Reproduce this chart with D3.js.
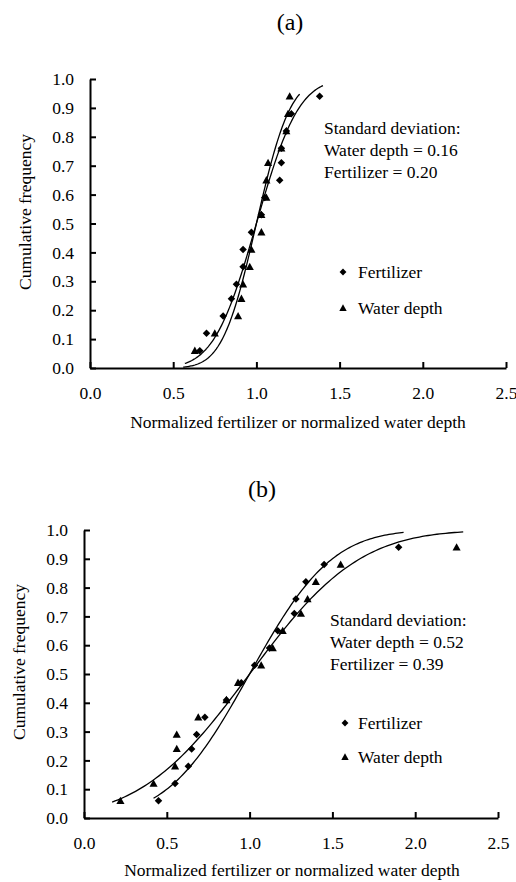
<!DOCTYPE html>
<html><head><meta charset="utf-8">
<script src="https://cdn.jsdelivr.net/npm/d3@7"></script>
<style>
body{margin:0;background:#fff}
svg{display:block}
text{font-family:"Liberation Serif","Times New Roman",serif;fill:#000}
</style>
</head><body><svg id="c" width="516" height="882"></svg>
<script>
// ---- data ----
const freq   = [0.06,0.12,0.18,0.24,0.29,0.35,0.41,0.47,0.53,0.59,0.65,0.71,0.76,0.82,0.88,0.94];
const fertA  = [0.66,0.70,0.80,0.85,0.88,0.92,0.92,0.97,1.03,1.05,1.14,1.15,1.15,1.18,1.21,1.38];
const waterA = [0.63,0.75,0.89,0.91,0.92,0.96,0.97,1.03,1.03,1.06,1.06,1.07,1.15,1.18,1.19,1.20];
const fertB  = [0.45,0.55,0.63,0.65,0.68,0.73,0.86,0.95,1.03,1.12,1.17,1.27,1.28,1.34,1.45,1.90];
const waterB = [0.22,0.42,0.55,0.56,0.56,0.69,0.86,0.93,1.07,1.14,1.20,1.31,1.35,1.40,1.55,2.25];
const xTicks = [0.0,0.5,1.0,1.5,2.0,2.5];
const yTicks = [0.0,0.1,0.2,0.3,0.4,0.5,0.6,0.7,0.8,0.9,1.0];
const panelTitles = ["(a)","(b)"];
const sdWater = [0.16,0.52];
const sdFert  = [0.20,0.39];
const fitMean = 1.0;
const waterCurveRange = [[0.56,1.26],[0.17,2.29]];
const fertCurveRange  = [[0.57,1.40],[0.42,1.93]];
const seriesNames = ["Fertilizer","Water depth"];
const xTitle = "Normalized fertilizer or normalized water depth";
const yTitle = "Cumulative frequency";

// ---- layout ----
const layouts = [
  {x0:90,x1:506,y0:368,y1:79,title:[290,30],xt:[298,428],yt:[25,212],ann:[324,134],leg:[343,358,272,308]},
  {x0:84,x1:498,y0:818,y1:530,title:[262,497],xt:[292,876],yt:[19,662],ann:[330,626],leg:[345,358,723,757]}
];
const fs = 17.5;

function erf(x){
  const s = x<0?-1:1; x=Math.abs(x);
  const t = 1/(1+0.3275911*x);
  const y = 1-(((((1.061405429*t-1.453152027)*t)+1.421413741)*t-0.284496736)*t+0.254829592)*t*Math.exp(-x*x);
  return s*y;
}
const ncdf = (x,m,s)=>0.5*(1+erf((x-m)/(s*Math.SQRT2)));

const svg = d3.select("#c");
svg.append("rect").attr("width",516).attr("height",882).attr("fill","#fff");

const diamond = {draw(ctx,size){const r=Math.sqrt(size)/2*1.25;ctx.moveTo(0,-r);ctx.lineTo(r,0);ctx.lineTo(0,r);ctx.lineTo(-r,0);ctx.closePath();}};
const tri = {draw(ctx,size){const r=Math.sqrt(size)/2*1.35;ctx.moveTo(0,-r);ctx.lineTo(r,r*0.8);ctx.lineTo(-r,r*0.8);ctx.closePath();}};

const dataSets = [[fertA,waterA],[fertB,waterB]];

layouts.forEach((L,pi)=>{
  const x = d3.scaleLinear().domain([0,2.5]).range([L.x0,L.x1]);
  const y = d3.scaleLinear().domain([0,1]).range([L.y0,L.y1]);
  const g = svg.append("g");

  // axes
  const ya = g.append("g").attr("transform",`translate(${L.x0},0)`)
    .call(d3.axisLeft(y).tickValues(yTicks).tickFormat(d3.format(".1f")).tickSizeInner(-6).tickSizeOuter(0).tickPadding(16));
  const xa = g.append("g").attr("transform",`translate(0,${L.y0})`)
    .call(d3.axisBottom(x).tickValues(xTicks).tickFormat(d3.format(".1f")).tickSizeInner(-6).tickSizeOuter(0).tickPadding(19));
  [ya,xa].forEach(a=>{
    a.attr("font-family",null);
    a.select(".domain").attr("stroke","#000").attr("stroke-width",2);
    a.selectAll(".tick line").attr("stroke","#000").attr("stroke-width",2);
    a.selectAll("text").attr("font-size",fs).attr("fill","#000");
  });

  // curves
  const line = d3.line().x(d=>x(d[0])).y(d=>y(d[1]));
  const mk = (rng,sd)=>d3.range(121).map(i=>{const v=rng[0]+(rng[1]-rng[0])*i/120;return [v,ncdf(v,fitMean,sd)];});
  g.append("path").attr("d",line(mk(waterCurveRange[pi],sdWater[pi]))).attr("fill","none").attr("stroke","#000").attr("stroke-width",1.3);
  g.append("path").attr("d",line(mk(fertCurveRange[pi],sdFert[pi]))).attr("fill","none").attr("stroke","#000").attr("stroke-width",1.3);

  // points
  const [fert,water] = dataSets[pi];
  g.selectAll(".pf").data(fert.map((v,i)=>[v,freq[i]])).enter().append("path")
    .attr("d",d3.symbol(diamond,36)()).attr("transform",d=>`translate(${x(d[0])},${y(d[1])})`).attr("fill","#000");
  g.selectAll(".pw").data(water.map((v,i)=>[v,freq[i]])).enter().append("path")
    .attr("d",d3.symbol(tri,36)()).attr("transform",d=>`translate(${x(d[0])},${y(d[1])})`).attr("fill","#000");

  // titles
  g.append("text").attr("x",L.title[0]).attr("y",L.title[1]).attr("text-anchor","middle").attr("font-size",24).text(panelTitles[pi]);
  g.append("text").attr("x",L.xt[0]).attr("y",L.xt[1]).attr("text-anchor","middle").attr("font-size",fs).text(xTitle);
  g.append("text").attr("transform",`translate(${L.yt[0]},${L.yt[1]}) rotate(-90)`).attr("text-anchor","middle").attr("dominant-baseline","central").attr("font-size",fs).text(yTitle);

  // annotation
  const annLines = ["Standard deviation:",`Water depth = ${sdWater[pi].toFixed(2)}`,`Fertilizer = ${sdFert[pi].toFixed(2)}`];
  annLines.forEach((t,i)=>g.append("text").attr("x",L.ann[0]).attr("y",L.ann[1]+i*22).attr("font-size",fs).text(t));

  // legend
  const [mx,tx,r1,r2] = L.leg;
  g.append("path").attr("d",d3.symbol(diamond,30)()).attr("transform",`translate(${mx},${r1})`).attr("fill","#000");
  g.append("text").attr("x",tx).attr("y",r1).attr("dy","0.32em").attr("font-size",fs).text(seriesNames[0]);
  g.append("path").attr("d",d3.symbol(tri,30)()).attr("transform",`translate(${mx},${r2})`).attr("fill","#000");
  g.append("text").attr("x",tx).attr("y",r2).attr("dy","0.32em").attr("font-size",fs).text(seriesNames[1]);
});
</script>
</body></html>
